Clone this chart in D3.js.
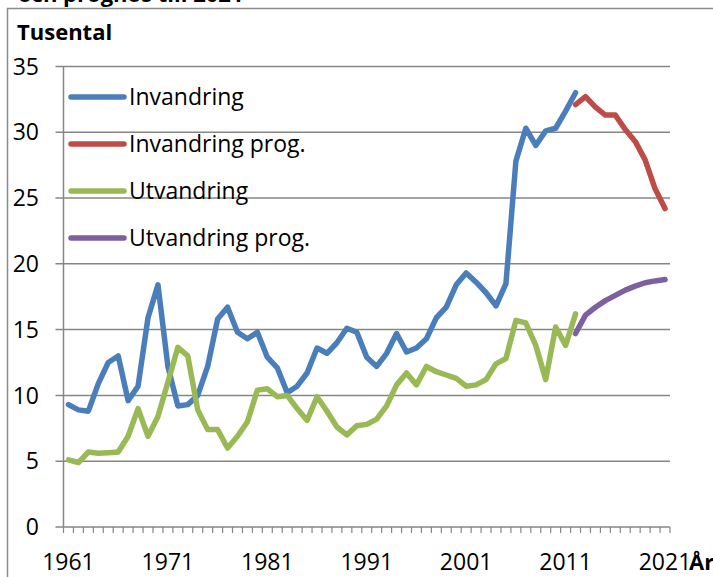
<!DOCTYPE html>
<html>
<head>
<meta charset="utf-8">
<script src="https://cdn.jsdelivr.net/npm/d3@7"></script>
<style>
body { margin:0; background:#fff; }
</style>
</head>
<body>
<div id="chart"></div>
<script>
// data (thousands)
var years = d3.range(1961, 2022);
var invandring = [9.3, 8.9, 8.8, 10.9, 12.5, 13.0, 9.6, 10.7, 15.9, 18.4,
	12.2, 9.2, 9.3, 10.0, 12.2, 15.8, 16.7, 14.8, 14.3, 14.8,
	12.9, 12.1, 10.2, 10.7, 11.7, 13.6, 13.2, 14.0, 15.1, 14.8,
	12.9, 12.2, 13.2, 14.7, 13.3, 13.6, 14.3, 15.9, 16.7, 18.4,
	19.3, 18.6, 17.8, 16.8, 18.5, 27.8, 30.3, 29.0, 30.1, 30.3,
	31.6, 33.0];
var invandringProg = [32.1, 32.7, 31.9, 31.3, 31.3, 30.2, 29.3, 27.9, 25.7, 24.2];
var utvandring = [5.1, 4.9, 5.7, 5.6, 5.65, 5.7, 6.9, 9.0, 6.9, 8.4,
	11.0, 13.65, 13.0, 8.9, 7.4, 7.4, 6.0, 6.9, 8.0, 10.4,
	10.5, 9.9, 10.0, 9.0, 8.1, 9.9, 8.8, 7.6, 7.0, 7.7,
	7.8, 8.2, 9.2, 10.8, 11.7, 10.8, 12.2, 11.8, 11.55, 11.3,
	10.7, 10.8, 11.2, 12.4, 12.8, 15.7, 15.5, 13.8, 11.2, 15.2,
	13.8, 16.2];
var utvandringProg = [14.7, 16.1, 16.7, 17.2, 17.6, 18.0, 18.3, 18.56, 18.7, 18.8];
var yTicks = [0, 5, 10, 15, 20, 25, 30, 35];
var xLabels = [1961, 1971, 1981, 1991, 2001, 2011, 2021];

var series = [
	{name:'Invandring', start:1961, values:invandring, color:'#4a7ebb'},
	{name:'Invandring prog.', start:2012, values:invandringProg, color:'#be4b48'},
	{name:'Utvandring', start:1961, values:utvandring, color:'#98b954'},
	{name:'Utvandring prog.', start:2012, values:utvandringProg, color:'#7d60a0'}
];

// chart parameters
var svpWidth = 713;
var svpHeight = 577;
var plot = {left:63.5, right:670, top:66.4, bottom:527};
var font = '"Open Sans", Lato, sans-serif';

var svg = d3.select('#chart')
	.append('svg')
	.attr('width', svpWidth)
	.attr('height', svpHeight)
	.style('font-family', font);

// outer frame
svg.append('rect')
	.attr('x', 7.5).attr('y', 8.5)
	.attr('width', 800).attr('height', 700)
	.style('fill', 'none')
	.style('stroke', '#8c8c8c')
	.style('stroke-width', 1.5);

// title, cut off at the top as in the source
svg.append('text')
	.attr('x', 18).attr('y', 2)
	.style('font-size', '22px')
	.style('font-weight', 'bold')
	.text('och prognos till 2021');

var x = d3.scaleBand()
	.domain(years)
	.range([plot.left, plot.right]);
var cx = function (yr) {return x(yr) + x.bandwidth()/2;};

var y = d3.scaleLinear()
	.domain([0, 35])
	.range([plot.bottom, plot.top]);

// gridlines
svg.append('g')
	.selectAll('line')
	.data(yTicks)
	.enter()
	.append('line')
	.attr('x1', plot.left - 8)
	.attr('x2', plot.right)
	.attr('y1', d=>y(d))
	.attr('y2', d=>y(d))
	.style('stroke', '#868686')
	.style('stroke-width', 1.5);

// y-axis line
svg.append('line')
	.attr('x1', plot.left).attr('x2', plot.left)
	.attr('y1', plot.top).attr('y2', plot.bottom)
	.style('stroke', '#868686')
	.style('stroke-width', 1.5);

// y tick labels
svg.append('g')
	.selectAll('text')
	.data(yTicks)
	.enter()
	.append('text')
	.attr('x', 39)
	.attr('y', d=>y(d))
	.attr('dy', '0.36em')
	.attr('text-anchor', 'end')
	.style('font-size', '23px')
	.text(d=>d);

// x tick marks between categories
var bounds = years.map(d=>x(d)).concat([plot.right]);
svg.append('g')
	.selectAll('line')
	.data(bounds)
	.enter()
	.append('line')
	.attr('x1', d=>d).attr('x2', d=>d)
	.attr('y1', plot.bottom)
	.attr('y2', plot.bottom + 6)
	.style('stroke', '#868686')
	.style('stroke-width', 1.2);

// x tick labels
svg.append('g')
	.selectAll('text')
	.data(xLabels)
	.enter()
	.append('text')
	.attr('x', d=>cx(d))
	.attr('y', 570)
	.attr('text-anchor', 'middle')
	.style('font-size', '23px')
	.text(d=>d);

// axis titles
svg.append('text')
	.attr('x', 17).attr('y', 40)
	.style('font-size', '22px')
	.style('font-weight', 'bold')
	.text('Tusental');
svg.append('text')
	.attr('x', 689).attr('y', 570)
	.style('font-size', '22px')
	.style('font-weight', 'bold')
	.text('År');

// lines
var line = d3.line()
	.x(d=>cx(d.year))
	.y(d=>y(d.v));
svg.append('g')
	.selectAll('path')
	.data(series)
	.enter()
	.append('path')
	.attr('d', s=>line(s.values.map((v, i)=>({year:s.start+i, v:v}))))
	.style('fill', 'none')
	.style('stroke', s=>s.color)
	.style('stroke-width', 5.5)
	.style('stroke-linejoin', 'round')
	.style('stroke-linecap', 'round');

// legend
var legend = svg.append('g')
	.selectAll('g')
	.data(series)
	.enter()
	.append('g')
	.attr('transform', (d, i)=>'translate(0,'+(97 + i*47)+')');
legend.append('line')
	.attr('x1', 71).attr('x2', 124)
	.attr('y1', 0).attr('y2', 0)
	.style('stroke', d=>d.color)
	.style('stroke-width', 5.5)
	.style('stroke-linecap', 'round');
legend.append('text')
	.attr('x', 129)
	.attr('dy', '0.36em')
	.style('font-size', '23px')
	.text(d=>d.name);
</script>
</body>
</html>
